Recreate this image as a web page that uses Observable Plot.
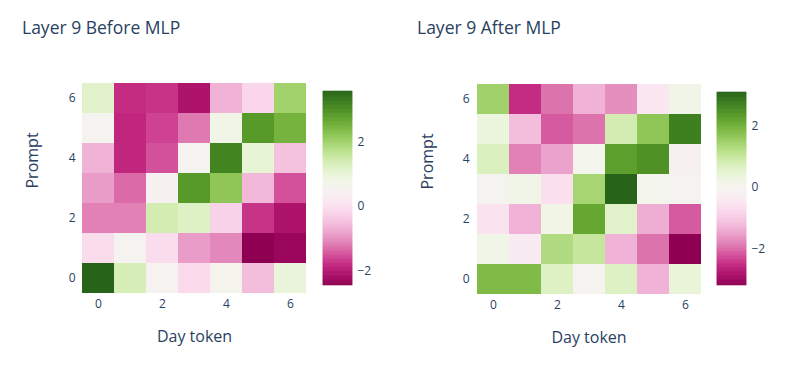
<!DOCTYPE html>
<html><head><meta charset="utf-8">
<script src="https://cdn.jsdelivr.net/npm/d3@7"></script>
<script src="https://cdn.jsdelivr.net/npm/@observablehq/plot@0.6"></script>
<style>
body{margin:0;background:#fff;}
#root{position:relative;width:788px;height:367px;font-family:"Open Sans",sans-serif;color:#2a3f5f;overflow:hidden;background:#fff}
.title{position:absolute;font-size:17.5px;line-height:18px;white-space:nowrap;color:#2a3f5f}
#root svg{position:absolute;top:0}
</style></head><body><div id="root"></div>
<script>
// Day token (x) and Prompt (y) categories
const days = [0, 1, 2, 3, 4, 5, 6];
const prompts = [0, 1, 2, 3, 4, 5, 6];
const axisTicks = [0, 2, 4, 6];
const colorTicks = [-2, 0, 2];
const titleBefore = "Layer 9 Before MLP";
const titleAfter = "Layer 9 After MLP";
const xLabel = "Day token";
const yLabel = "Prompt";

// values[prompt][day], prompt 0 = bottom row
const beforeMLP = [
  [ 3.57,  1.34,  0.50, -0.10,  0.62, -0.52,  0.98],
  [-0.04,  0.56, -0.04, -0.88, -1.07, -2.45, -2.33],
  [-1.13, -1.13,  1.40,  1.22, -0.22, -1.73, -2.09],
  [-0.88, -1.31,  0.44,  2.85,  2.19, -0.58, -1.49],
  [-0.64, -1.85, -1.49,  0.56,  3.15,  1.04, -0.46],
  [ 0.56, -1.85, -1.61, -1.19,  0.74,  2.85,  2.49],
  [ 1.16, -1.79, -1.73, -2.09, -0.64, -0.16,  2.00]
];
const afterMLP = [
  [ 1.83,  1.83,  0.64, -0.05,  0.64, -1.31,  0.39],
  [ 0.14, -0.36,  1.27,  1.02, -1.31, -1.93, -3.19],
  [-0.55, -1.31,  0.20,  2.15,  0.58, -1.37, -2.12],
  [-0.05,  0.14, -0.62,  1.39,  3.09,  0.08, -0.05],
  [ 0.70, -1.81, -1.49,  0.08,  2.27,  2.46, -0.18],
  [ 0.33, -1.18, -2.12, -1.93,  0.83,  1.65,  2.71],
  [ 1.46, -2.50, -1.93, -1.31, -1.68, -0.49,  0.14]
];

const root = document.getElementById("root");
const baseStyle = {fontFamily: '"Open Sans", sans-serif', fontSize: "12px", color: "#2a3f5f", background: "none", overflow: "visible"};
const fmt = d => (d < 0 ? "\u2212" + Math.abs(d) : String(d));

function addTitle(text, left, top) {
  const d = document.createElement("div");
  d.className = "title";
  d.textContent = text;
  d.style.left = left + "px";
  d.style.top = top + "px";
  root.appendChild(d);
}

function heatmap(values, o) {
  const data = prompts.flatMap(p => days.map(d => ({day: d, prompt: p, value: values[p][d]})));
  const domain = d3.extent(data, d => d.value);
  const svg = Plot.plot({
    width: 394, height: 367,
    marginLeft: o.marginLeft, marginRight: o.marginRight, marginTop: o.marginTop, marginBottom: o.marginBottom,
    style: baseStyle,
    x: {type: "band", domain: days, padding: 0},
    y: {type: "band", domain: prompts.slice().reverse(), padding: 0},
    color: {type: "linear", scheme: "piyg", domain},
    marks: [
      Plot.cell(data, {x: "day", y: "prompt", fill: "value", inset: 0}),
      Plot.axisX({ticks: axisTicks, tickSize: 0, tickPadding: 4, label: null}),
      Plot.axisY({ticks: axisTicks, tickSize: 0, tickPadding: 5, label: null}),
      Plot.text([xLabel], {text: d => d, frameAnchor: "bottom", dy: 41, lineAnchor: "middle", fontSize: 16, fill: "#2a3f5f"}),
      Plot.text([yLabel], {text: d => d, frameAnchor: "left", dx: o.labelDx, rotate: -90, lineAnchor: "middle", fontSize: 16, fill: "#2a3f5f"})
    ]
  });
  svg.style.left = o.left + "px";
  root.appendChild(svg);
  return domain;
}

function colorbar(domain, o) {
  const n = 240;
  const step = (domain[1] - domain[0]) / n;
  const slices = d3.range(n).map(i => ({y1: domain[0] + i * step, y2: domain[0] + (i + 1) * step, v: domain[0] + (i + 0.5) * step}));
  const svg = Plot.plot({
    width: 29 + 40, height: 367,
    marginLeft: 0, marginRight: 40, marginTop: o.marginTop, marginBottom: o.marginBottom,
    style: baseStyle,
    y: {domain},
    color: {type: "linear", scheme: "piyg", domain},
    marks: [
      Plot.rect(slices, {y1: "y1", y2: "y2", fill: "v", stroke: "v", strokeWidth: 0.6}),
      Plot.axisY({anchor: "right", ticks: colorTicks, tickFormat: fmt, tickSize: 0, tickPadding: 5, label: null})
    ]
  });
  svg.style.left = o.left + "px";
  root.appendChild(svg);
}

const dBefore = heatmap(beforeMLP, {left: 0, marginLeft: 80, marginRight: 86, marginTop: 81, marginBottom: 72, labelDx: -48});
colorbar(dBefore, {left: 323, marginTop: 91, marginBottom: 82});
const dAfter = heatmap(afterMLP, {left: 394, marginLeft: 80, marginRight: 85, marginTop: 82, marginBottom: 71, labelDx: -47});
colorbar(dAfter, {left: 717, marginTop: 92, marginBottom: 82});
addTitle(titleBefore, 22, 18);
addTitle(titleAfter, 417, 18);
</script>
</body></html>
